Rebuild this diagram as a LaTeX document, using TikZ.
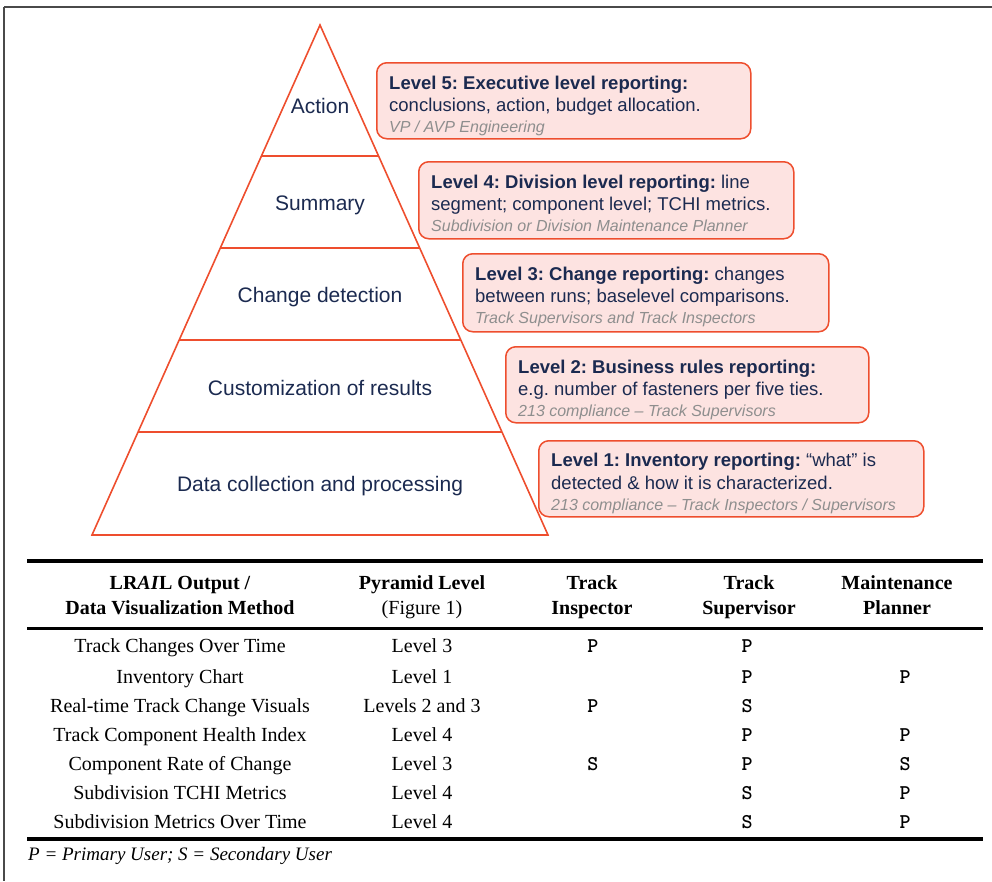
\documentclass[tikz,border=0pt]{standalone}
\usepackage{fontspec}
\setmainfont{Liberation Serif}
\newfontfamily\arialfont{Liberation Sans}
\usetikzlibrary{calc}
\frenchspacing
\definecolor{pyrred}{HTML}{EE4E2E}
\definecolor{boxfill}{HTML}{FDE3E1}
\definecolor{navy}{HTML}{1B2A50}
\definecolor{softgray}{HTML}{8E8E8E}
\definecolor{framegray}{HTML}{4A4A4A}
\tikzset{
  pyr/.style={draw=pyrred, line width=1.6pt, line join=miter},
  plabel/.style={font=\arialfont\fontsize{21}{25}\selectfont, text=navy, inner sep=0pt},
  rbox/.style={draw=pyrred, fill=boxfill, line width=1.5pt, rounded corners=10pt,
    anchor=north west, inner sep=0pt},
  btxt/.style={font=\arialfont\fontsize{18.5}{22}\selectfont, text=navy, inner sep=0pt, anchor=base west},
  bsub/.style={font=\arialfont\itshape\fontsize{16}{18}\selectfont, text=softgray, inner sep=0pt, anchor=base west},
  tcell/.style={font=\fontsize{20}{24}\selectfont, text=black, inner sep=0pt,
    text height=0.7em, text depth=0pt},
  thead/.style={tcell, font=\bfseries\fontsize{20}{24}\selectfont},
  pscell/.style={tcell, font=\ttfamily\bfseries\fontsize{21}{24}\selectfont},
  tabrule/.style={draw=black, line width=#1},
}
\begin{document}
\begin{tikzpicture}[x=1pt,y=-1pt]
\useasboundingbox (0,0) rectangle (992,881);

% outer frame
\draw[framegray, line width=2.4pt] (4,7) -- (992,7);
\draw[framegray, line width=1.4pt] (4,7) -- (4,881);

% pyramid
\coordinate (apex) at (320,25);
\coordinate (bl) at (92,535);
\coordinate (br) at (548,535);
\draw[pyr] (apex) -- (bl) -- (br) -- cycle;
\foreach \t in {0.2569,0.4373,0.6176,0.7980}
  \draw[pyr] ($(apex)!\t!(bl)$) -- ($(apex)!\t!(br)$);

\node[plabel] (p5) at (320,106) {Action};
\node[plabel] (p4) at (320,205) {Summary};
\node[plabel] (p3) at (320,297) {Change detection};
\node[plabel] (p2) at (320,388) {Customization of results};
\node[plabel] (p1) at (320,486) {Data collection and processing};

% level descriptions
\node[rbox, minimum width=374, minimum height=76] (b5) at (376,62) {};
\node[btxt] (b5a) at ($(b5.north west)+(13,27)$) {\bfseries Level 5: Executive level reporting:};
\node[btxt] (b5b) at ($(b5.north west)+(13,49)$) {conclusions, action, budget allocation.};
\node[bsub] (b5c) at ($(b5.north west)+(13,70)$) {VP / AVP Engineering};

\node[rbox, minimum width=375, minimum height=77] (b4) at (418,161) {};
\node[btxt] (b4a) at ($(b4.north west)+(13,27)$) {\textbf{Level 4: Division level reporting:} line};
\node[btxt] (b4b) at ($(b4.north west)+(13,49)$) {segment; component level; TCHI metrics.};
\node[bsub] (b4c) at ($(b4.north west)+(13,70)$) {Subdivision or Division Maintenance Planner};

\node[rbox, minimum width=366, minimum height=78] (b3) at (462,253) {};
\node[btxt] (b3a) at ($(b3.north west)+(13,27)$) {\textbf{Level 3: Change reporting:} changes};
\node[btxt] (b3b) at ($(b3.north west)+(13,49)$) {between runs; baselevel comparisons.};
\node[bsub] (b3c) at ($(b3.north west)+(13,70)$) {Track Supervisors and Track Inspectors};

\node[rbox, minimum width=363, minimum height=76] (b2) at (505,346) {};
\node[btxt] (b2a) at ($(b2.north west)+(13,27)$) {\bfseries Level 2: Business rules reporting:};
\node[btxt] (b2b) at ($(b2.north west)+(13,49)$) {e.g. number of fasteners per five ties.};
\node[bsub] (b2c) at ($(b2.north west)+(13,70)$) {213 compliance – Track Supervisors};

\node[rbox, minimum width=385, minimum height=76] (b1) at (538,440) {};
\node[btxt] (b1a) at ($(b1.north west)+(13,26)$) {\textbf{Level 1: Inventory reporting:} “what” is};
\node[btxt] (b1b) at ($(b1.north west)+(13,49)$) {detected \& how it is characterized.};
\node[bsub] (b1c) at ($(b1.north west)+(13,70)$) {213 compliance – Track Inspectors / Supervisors};

% table rules
\draw[tabrule=4pt] (27,561) -- (983,561);
\draw[tabrule=3pt] (27,628) -- (983,628);
\draw[tabrule=4pt] (27,839) -- (983,839);

% table header
\node[thead] (h1a) at (180,586) {LR\textit{AI}L Output /};
\node[thead] (h1b) at (180,611) {Data Visualization Method};
\node[thead] (h2a) at (422,586) {Pyramid Level};
\node[tcell] (h2b) at (422,611) {(Figure 1)};
\node[thead] (h3a) at (592,586) {Track};
\node[thead] (h3b) at (592,611) {Inspector};
\node[thead] (h4a) at (749,586) {Track};
\node[thead] (h4b) at (749,611) {Supervisor};
\node[thead] (h5a) at (897,586) {Maintenance};
\node[thead] (h5b) at (897,611) {Planner};

% table body
\foreach \y/\rname/\lev/\ins/\svr/\pla [count=\i] in {
  649/Track Changes Over Time/Level 3/P/P/,
  680/Inventory Chart/Level 1//P/P,
  709/Real-time Track Change Visuals/Levels 2 and 3/P/S/,
  738/Track Component Health Index/Level 4//P/P,
  767/Component Rate of Change/Level 3/S/P/S,
  796/Subdivision TCHI Metrics/Level 4//S/P,
  825/Subdivision Metrics Over Time/Level 4//S/P}{
  \node[tcell] (r\i n) at (180,\y) {\rname};
  \node[tcell] (r\i l) at (422,\y) {\lev};
  \node[pscell] (r\i i) at (593,\y) {\ins};
  \node[pscell] (r\i s) at (747,\y) {\svr};
  \node[pscell] (r\i p) at (905,\y) {\pla};
}

\node[tcell, font=\itshape\fontsize{19}{23}\selectfont, anchor=west] (foot) at (28,857)
  {P = Primary User; S = Secondary User};
\end{tikzpicture}
\end{document}
